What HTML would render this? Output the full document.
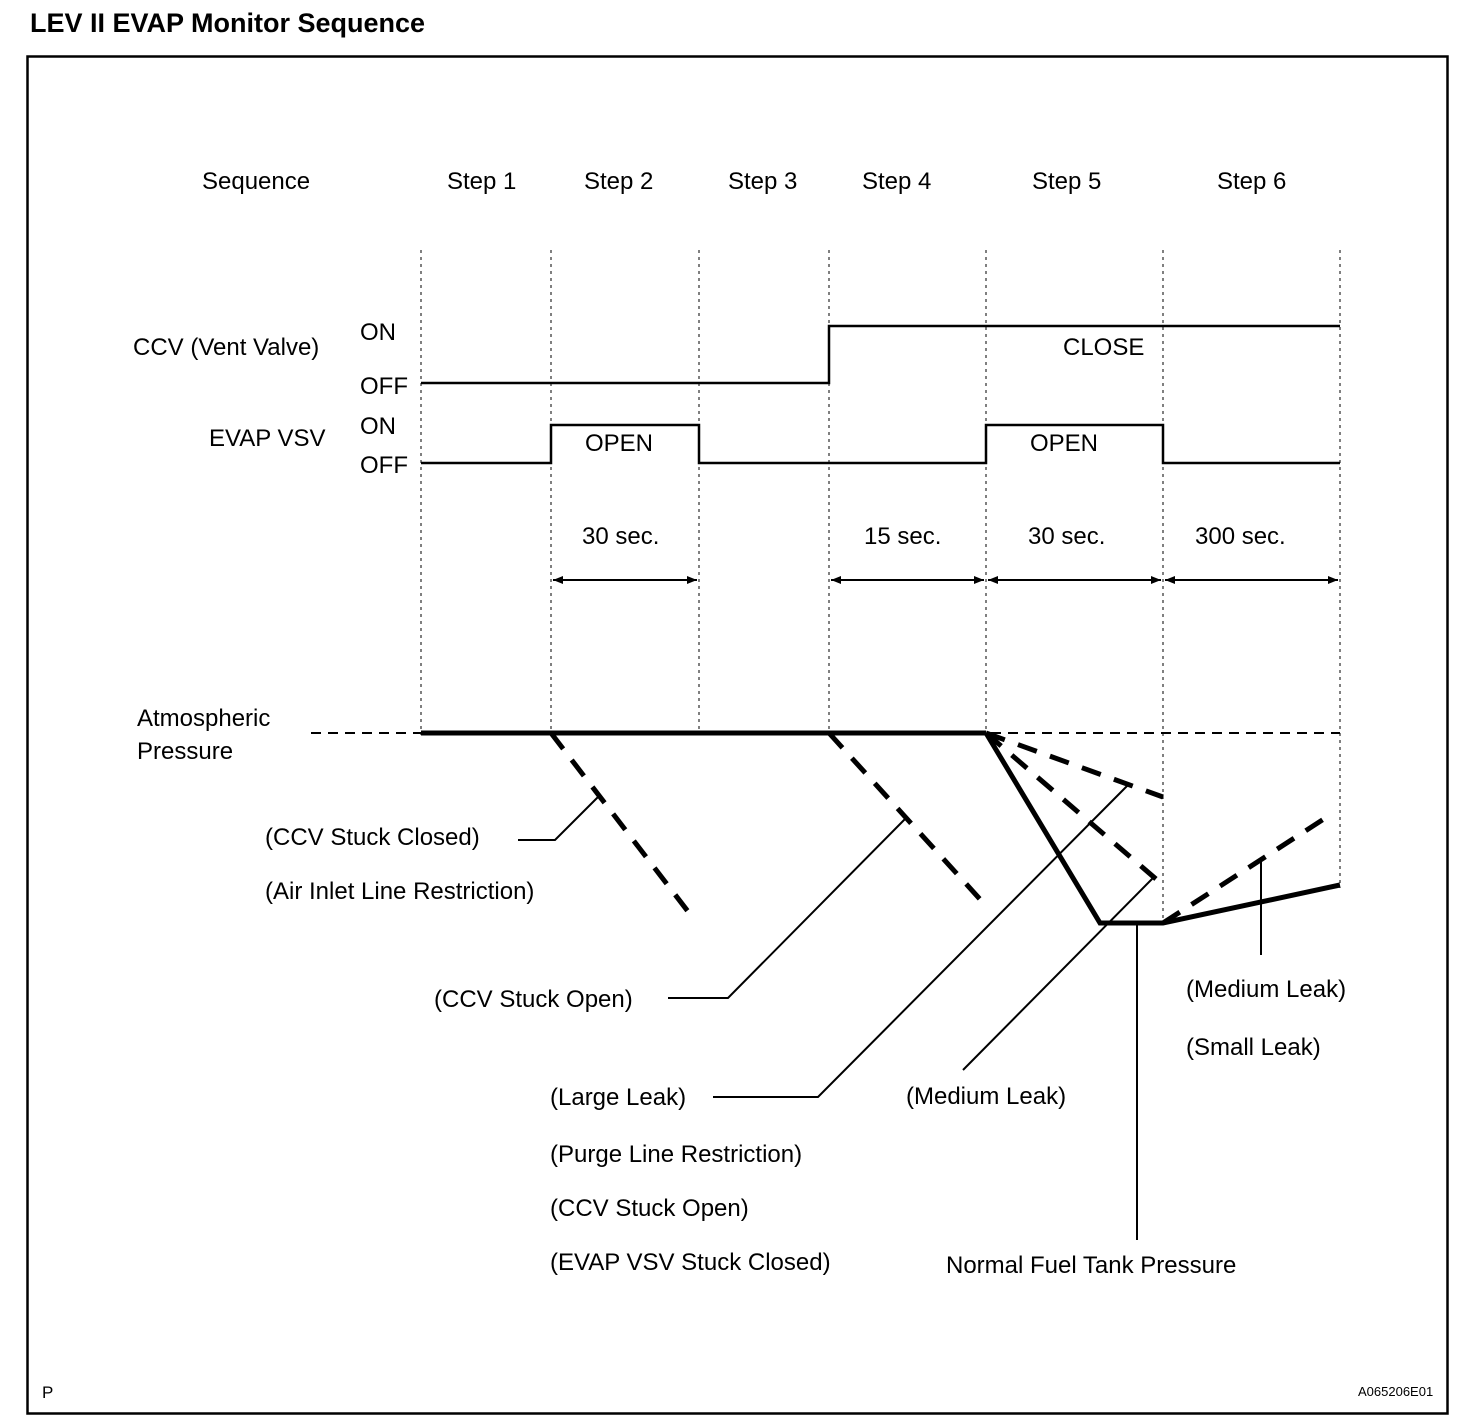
<!DOCTYPE html>
<html><head><meta charset="utf-8"><style>
html,body{margin:0;padding:0;background:#fff}
svg{display:block}
text{font-family:"Liberation Sans",sans-serif;fill:#000}
</style></head><body>
<svg width="1472" height="1428" viewBox="0 0 1472 1428" xmlns="http://www.w3.org/2000/svg">
<defs>
<marker id="a" viewBox="0 0 10 10" refX="10" refY="5" markerWidth="10" markerHeight="10" markerUnits="userSpaceOnUse" orient="auto-start-reverse"><path d="M0,1 L10,5 L0,9 Z" fill="#000"/></marker>
</defs>
<text x="30" y="32" font-size="27" font-weight="bold">LEV II EVAP Monitor Sequence</text>
<rect x="27.5" y="56.5" width="1420" height="1357" fill="none" stroke="#000" stroke-width="2.5"/>

<g font-size="24">
<text x="202" y="189">Sequence</text>
<text x="447" y="189">Step 1</text>
<text x="584" y="189">Step 2</text>
<text x="728" y="189">Step 3</text>
<text x="862" y="189">Step 4</text>
<text x="1032" y="189">Step 5</text>
<text x="1217" y="189">Step 6</text>
<text x="133" y="355">CCV (Vent Valve)</text>
<text x="360" y="340">ON</text>
<text x="360" y="394">OFF</text>
<text x="209" y="446">EVAP VSV</text>
<text x="360" y="434">ON</text>
<text x="360" y="473">OFF</text>
<text x="1063" y="355">CLOSE</text>
<text x="585" y="451">OPEN</text>
<text x="1030" y="451">OPEN</text>
<text x="582" y="544">30 sec.</text>
<text x="864" y="544">15 sec.</text>
<text x="1028" y="544">30 sec.</text>
<text x="1195" y="544">300 sec.</text>
<text x="137" y="726">Atmospheric</text>
<text x="137" y="759">Pressure</text>
<text x="265" y="845">(CCV Stuck Closed)</text>
<text x="265" y="899">(Air Inlet Line Restriction)</text>
<text x="434" y="1007">(CCV Stuck Open)</text>
<text x="550" y="1105">(Large Leak)</text>
<text x="550" y="1162">(Purge Line Restriction)</text>
<text x="550" y="1216">(CCV Stuck Open)</text>
<text x="550" y="1270">(EVAP VSV Stuck Closed)</text>
<text x="906" y="1104">(Medium Leak)</text>
<text x="946" y="1273">Normal Fuel Tank Pressure</text>
<text x="1186" y="997">(Medium Leak)</text>
<text x="1186" y="1055">(Small Leak)</text>
</g>
<text x="42" y="1398" font-size="17">P</text>
<text x="1358" y="1396" font-size="13">A065206E01</text>

<g stroke="#000" stroke-width="1" stroke-dasharray="3,4" fill="none">
<line x1="421" y1="250" x2="421" y2="735"/>
<line x1="551" y1="250" x2="551" y2="735"/>
<line x1="699" y1="250" x2="699" y2="735"/>
<line x1="829" y1="250" x2="829" y2="735"/>
<line x1="986" y1="250" x2="986" y2="735"/>
<line x1="1163" y1="250" x2="1163" y2="922"/>
<line x1="1340" y1="250" x2="1340" y2="888"/>
</g>

<g stroke="#000" stroke-width="2.5" fill="none">
<polyline points="421,383 829,383 829,326 1340,326"/>
<polyline points="421,463 551,463 551,425 699,425 699,463 986,463 986,425 1163,425 1163,463 1340,463"/>
</g>
<g stroke="#000" stroke-width="2" marker-start="url(#a)" marker-end="url(#a)">
<line x1="553" y1="580" x2="697" y2="580"/>
<line x1="831" y1="580" x2="984" y2="580"/>
<line x1="988" y1="580" x2="1161" y2="580"/>
<line x1="1165" y1="580" x2="1338" y2="580"/>
</g>

<line x1="311" y1="733" x2="1340" y2="733" stroke="#000" stroke-width="2" stroke-dasharray="10,7"/>
<line x1="421" y1="733" x2="986" y2="733" stroke="#000" stroke-width="5"/>
<g stroke="#000" stroke-width="5" stroke-dasharray="20,14" fill="none">
<line x1="551" y1="733" x2="693" y2="918"/>
<line x1="829" y1="733" x2="988" y2="908"/>
<line x1="986" y1="733" x2="1163" y2="797"/>
<line x1="986" y1="733" x2="1163" y2="885"/>
<line x1="1163" y1="923" x2="1330" y2="815"/>
</g>
<polyline points="986,733 1100,923 1163,923 1340,885" stroke="#000" stroke-width="5" fill="none"/>

<g stroke="#000" stroke-width="2" fill="none">
<polyline points="518,840 555,840 600,795"/>
<polyline points="668,998 728,998 906,818"/>
<polyline points="713,1097 818,1097 1128,785"/>
<line x1="963" y1="1070" x2="1153" y2="878"/>
<line x1="1137" y1="923" x2="1137" y2="1240"/>
<line x1="1261" y1="862" x2="1261" y2="955"/>
</g>
</svg>
</body></html>
